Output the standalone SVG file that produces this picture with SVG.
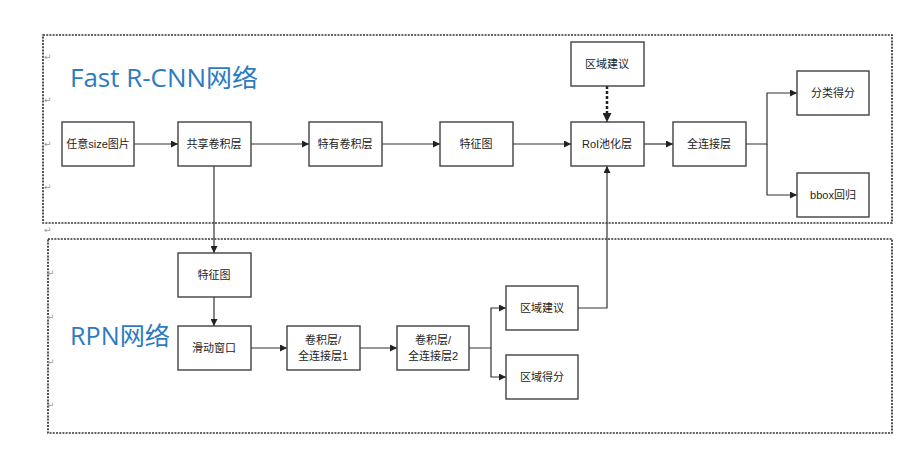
<svg xmlns="http://www.w3.org/2000/svg" width="917" height="466" viewBox="0 0 917 466">
<style>
.box{fill:#fff;stroke:#404040;stroke-width:1.4}
.lbl{font-family:"Liberation Sans","Noto Sans CJK SC",sans-serif;font-size:11px;fill:#222;text-anchor:middle}
.title{font-family:"Open Sans","Noto Sans CJK SC",sans-serif;font-size:25.5px;fill:#2E7BBF}
.frame{fill:none;stroke:#333;stroke-width:1.7;stroke-dasharray:2 1.2}
.ln{fill:none;stroke:#333;stroke-width:1.2}
.pm{font-family:"DejaVu Sans",sans-serif;font-size:9px;fill:#999}
</style>
<defs>
<marker id="ah" viewBox="0 0 10 10" refX="10" refY="5" markerWidth="7" markerHeight="7" markerUnits="userSpaceOnUse" orient="auto">
<path d="M0,0 L10,5 L0,10 z" fill="#222"/>
</marker>
<marker id="ahb" viewBox="0 0 10 10" refX="10" refY="5" markerWidth="9" markerHeight="9" markerUnits="userSpaceOnUse" orient="auto">
<path d="M0,0 L10,5 L0,10 z" fill="#222"/>
</marker>
</defs>
<rect width="917" height="466" fill="#fff"/>
<g id="frames">
<rect class="frame" x="43" y="35" width="849" height="188"/>
<rect class="frame" x="48" y="239" width="844" height="194"/>
</g>
<g id="marks">
<text class="pm" x="44" y="60">↵</text>
<text class="pm" x="44" y="103">↵</text>
<text class="pm" x="44" y="147">↵</text>
<text class="pm" x="44" y="190">↵</text>
<text class="pm" x="44" y="233">↵</text>
<text class="pm" x="47" y="276">↵</text>
<text class="pm" x="47" y="320">↵</text>
<text class="pm" x="47" y="365">↵</text>
<text class="pm" x="47" y="408">↵</text>
</g>
<text class="title" x="70" y="87" textLength="188" lengthAdjust="spacingAndGlyphs">Fast R-CNN网络</text>
<text class="title" x="70" y="345" textLength="100" lengthAdjust="spacingAndGlyphs">RPN网络</text>
<g id="connectors">
<line class="ln" x1="134" y1="144" x2="178" y2="144" marker-end="url(#ah)"/>
<line class="ln" x1="251" y1="144" x2="309" y2="144" marker-end="url(#ah)"/>
<line class="ln" x1="382" y1="144" x2="440" y2="144" marker-end="url(#ah)"/>
<line class="ln" x1="513" y1="144" x2="571" y2="144" marker-end="url(#ah)"/>
<line x1="607" y1="86" x2="607" y2="122" stroke="#222" stroke-width="2.5" stroke-dasharray="3 2" marker-end="url(#ahb)"/>
<line class="ln" x1="644" y1="144" x2="673" y2="144" marker-end="url(#ah)"/>
<polyline class="ln" points="746,144 767,144 767,93 797,93" marker-end="url(#ah)"/>
<polyline class="ln" points="767,144 767,195 797,195" marker-end="url(#ah)"/>
<line class="ln" x1="214" y1="166" x2="214" y2="253" marker-end="url(#ah)"/>
<line class="ln" x1="214" y1="297" x2="214" y2="326" marker-end="url(#ah)"/>
<line class="ln" x1="251" y1="348" x2="287" y2="348" marker-end="url(#ah)"/>
<line class="ln" x1="360" y1="348" x2="397" y2="348" marker-end="url(#ah)"/>
<polyline class="ln" points="469,348 491,348 491,308 506,308" marker-end="url(#ah)"/>
<polyline class="ln" points="491,348 491,377 506,377" marker-end="url(#ah)"/>
<polyline class="ln" points="578,308 607,308 607,166" marker-end="url(#ah)"/>
</g>
<g id="n_input"><rect class="box" x="62" y="122" width="72" height="44"/><text class="lbl" x="98" y="148">任意size图片</text></g>
<g id="n_shared"><rect class="box" x="178" y="122" width="73" height="44"/><text class="lbl" x="214" y="148">共享卷积层</text></g>
<g id="n_own"><rect class="box" x="309" y="122" width="73" height="44"/><text class="lbl" x="345" y="148">特有卷积层</text></g>
<g id="n_feat1"><rect class="box" x="440" y="122" width="73" height="44"/><text class="lbl" x="476" y="148">特征图</text></g>
<g id="n_roi"><rect class="box" x="571" y="122" width="73" height="44"/><text class="lbl" x="607" y="148">RoI池化层</text></g>
<g id="n_prop1"><rect class="box" x="571" y="42" width="73" height="44"/><text class="lbl" x="607" y="68">区域建议</text></g>
<g id="n_fc"><rect class="box" x="673" y="122" width="73" height="44"/><text class="lbl" x="709" y="148">全连接层</text></g>
<g id="n_cls"><rect class="box" x="797" y="71" width="72" height="44"/><text class="lbl" x="833" y="97">分类得分</text></g>
<g id="n_bbox"><rect class="box" x="797" y="173" width="72" height="44"/><text class="lbl" x="833" y="199">bbox回归</text></g>
<g id="n_feat2"><rect class="box" x="178" y="253" width="73" height="44"/><text class="lbl" x="214" y="279">特征图</text></g>
<g id="n_slide"><rect class="box" x="178" y="326" width="73" height="44"/><text class="lbl" x="214" y="352">滑动窗口</text></g>
<g id="n_conv1"><rect class="box" x="287" y="326" width="73" height="44"/><text class="lbl" x="323" y="344">卷积层/</text><text class="lbl" x="323" y="360">全连接层1</text></g>
<g id="n_conv2"><rect class="box" x="397" y="326" width="72" height="44"/><text class="lbl" x="433" y="344">卷积层/</text><text class="lbl" x="433" y="360">全连接层2</text></g>
<g id="n_prop2"><rect class="box" x="506" y="286" width="72" height="44"/><text class="lbl" x="542" y="312">区域建议</text></g>
<g id="n_score"><rect class="box" x="506" y="355" width="72" height="44"/><text class="lbl" x="542" y="381">区域得分</text></g>
</svg>
